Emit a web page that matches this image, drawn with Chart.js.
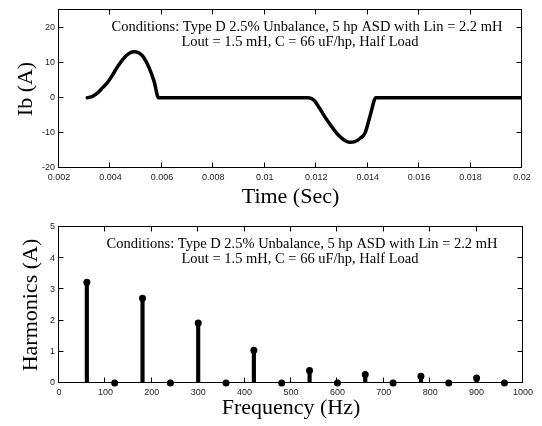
<!DOCTYPE html>
<html>
<head>
<meta charset="utf-8">
<script src="https://cdn.jsdelivr.net/npm/chart.js@4.4.1/dist/chart.umd.min.js"></script>
<style>
body{margin:0;background:#fff;}
.box{position:absolute;left:0;width:542px;height:213px;}
</style>
</head>
<body>
<div class="box" style="top:0"><canvas id="waveChart" width="542" height="213"></canvas></div>
<div class="box" style="top:213px"><canvas id="harmChart" width="542" height="213"></canvas></div>
<script>
// phase b line current, one cycle
const timeSec  = [0.0031, 0.0033, 0.0035, 0.0037, 0.0039, 0.0041, 0.0043, 0.0045, 0.0047, 0.0049, 0.0051, 0.0053, 0.0055, 0.0057, 0.00587,
                  0.0117, 0.0119, 0.0121, 0.0123, 0.0125, 0.0127, 0.0129, 0.0131, 0.0133, 0.0135, 0.0137, 0.0139, 0.0141, 0.01432, 0.0200];
const currentA = [0, 0.4, 1.4, 2.9, 4.5, 6.7, 9.1, 11.1, 12.5, 13.1, 12.8, 11.4, 8.6, 4.6, 0,
                  0, -0.6, -2.6, -5.0, -7.2, -9.2, -10.9, -12.1, -12.7, -12.5, -11.6, -10.0, -5.0, 0, 0];
const timeTicks = [0.002, 0.004, 0.006, 0.008, 0.01, 0.012, 0.014, 0.016, 0.018, 0.02];
const currentTicks = [-20, -10, 0, 10, 20];

// harmonic spectrum of the same current
const freqHz   = [60, 120, 180, 240, 300, 360, 420, 480, 540, 600, 660, 720, 780, 840, 900, 960];
const harmAmps = [3.23, 0, 2.72, 0, 1.92, 0, 1.05, 0, 0.40, 0, 0.27, 0, 0.22, 0, 0.16, 0];
const freqTicks = [0, 100, 200, 300, 400, 500, 600, 700, 800, 900, 1000];
const harmTicks = [0, 1, 2, 3, 4, 5];

const noteLines = [
    'Conditions: Type D 2.5% Unbalance, 5 hp ASD with Lin = 2.2 mH',
    'Lout = 1.5 mH, C = 66 uF/hp, Half Load'
];

const SERIF = '"Liberation Serif", "Times New Roman", serif';
const SANS = '"Liberation Sans", Arial, sans-serif';

// box around the plot with inward ticks on all four sides
const framePlugin = {
    id: 'frame',
    afterDatasetsDraw(chart){
        const {ctx, chartArea: a, scales} = chart;
        const L = Math.round(a.left) - 0.5, R = Math.round(a.right) - 0.5;
        const T = Math.round(a.top) - 0.5, B = Math.round(a.bottom) - 0.5;
        ctx.save();
        ctx.strokeStyle = '#000';
        ctx.lineWidth = 1;
        ctx.strokeRect(L, T, R - L, B - T);
        ctx.beginPath();
        scales.x.ticks.forEach(t=>{
            const px = Math.round(scales.x.getPixelForValue(t.value)) - 0.5;
            ctx.moveTo(px, B); ctx.lineTo(px, B - 5);
            ctx.moveTo(px, T); ctx.lineTo(px, T + 5);
        });
        scales.y.ticks.forEach(t=>{
            const py = Math.round(scales.y.getPixelForValue(t.value)) - 0.5;
            ctx.moveTo(L, py); ctx.lineTo(L + 5, py);
            ctx.moveTo(R, py); ctx.lineTo(R - 5, py);
        });
        ctx.stroke();
        ctx.restore();
    }
};

// two-line conditions note inside the plot
const notePlugin = {
    id: 'note',
    afterDraw(chart, args, opts){
        const {ctx, chartArea: a} = chart;
        ctx.save();
        ctx.fillStyle = '#000';
        ctx.font = '14.5px ' + SERIF;
        ctx.textAlign = 'center';
        ctx.textBaseline = 'alphabetic';
        ctx.fillText(noteLines[0], opts.x1, a.top + 20.5);
        ctx.fillText(noteLines[1], opts.x2, a.top + 35.5);
        ctx.restore();
    }
};

function fmt(v){ return String(+v.toFixed(3)); }

function axisX(min, max, tickVals, title, height, titlePad){
    return {
        type: 'linear', min, max, offset: false,
        afterBuildTicks: s => { s.ticks = tickVals.map(v=>({value:v})); },
        afterFit: s => { s.height = height; },
        grid: {display: false, drawTicks: false},
        border: {display: false},
        ticks: {font: {family: SANS, size: 9}, color: '#222', padding: 4, maxRotation: 0, autoSkip: false, callback: fmt},
        title: {display: true, text: title, font: {family: SERIF, size: 22, lineHeight: 1.2}, color: '#000', padding: {top: 0, bottom: titlePad}}
    };
}

function axisY(min, max, tickVals, title, titlePad){
    return {
        type: 'linear', min, max,
        afterBuildTicks: s => { s.ticks = tickVals.map(v=>({value:v})); },
        afterFit: s => { s.width = 59; },
        grid: {display: false, drawTicks: false},
        border: {display: false},
        ticks: {font: {family: SANS, size: 9}, color: '#222', padding: 4, autoSkip: false, callback: fmt},
        title: {display: true, text: title, font: {family: SERIF, size: 22, lineHeight: 1.2}, color: '#000', padding: {top: titlePad, bottom: 0}}
    };
}

new Chart(document.getElementById('waveChart'), {
    type: 'line',
    data: {
        datasets: [{
            data: timeSec.map((t,i)=>({x: t, y: currentA[i]})),
            borderColor: '#000',
            borderWidth: 3.5,
            pointRadius: 0,
            tension: 0.4,
            cubicInterpolationMode: 'monotone',
            borderJoinStyle: 'round',
            borderCapStyle: 'round'
        }]
    },
    options: {
        responsive: false,
        animation: false,
        layout: {padding: {top: 10, right: 20, left: 0, bottom: 0}},
        plugins: {legend: {display: false}, tooltip: {enabled: false}, note: {x1: 307, x2: 300}},
        scales: {
            x: axisX(0.002, 0.02, timeTicks, 'Time (Sec)', 45, 3),
            y: axisY(-20, 25, currentTicks, 'Ib (A)', 13)
        }
    },
    plugins: [framePlugin, notePlugin]
});

new Chart(document.getElementById('harmChart'), {
    type: 'scatter',
    data: {
        datasets: [{
            type: 'scatter',
            data: freqHz.map((f,i)=>({x: f, y: harmAmps[i]})),
            backgroundColor: '#000',
            borderColor: '#000',
            pointRadius: 3.5,
            borderWidth: 0,
            clip: false
        },{
            type: 'bar',
            data: freqHz.map((f,i)=>({x: f, y: harmAmps[i]})),
            backgroundColor: '#000',
            barThickness: 3.5,
            borderWidth: 0
        }]
    },
    options: {
        responsive: false,
        animation: false,
        layout: {padding: {top: 14, right: 19, left: 0, bottom: 0}},
        plugins: {legend: {display: false}, tooltip: {enabled: false}, note: {x1: 302, x2: 300}},
        scales: {
            x: axisX(0, 1000, freqTicks, 'Frequency (Hz)', 43, 5),
            y: axisY(0, 5, harmTicks, 'Harmonics (A)', 18)
        }
    },
    plugins: [framePlugin, notePlugin]
});
</script>
</body>
</html>
